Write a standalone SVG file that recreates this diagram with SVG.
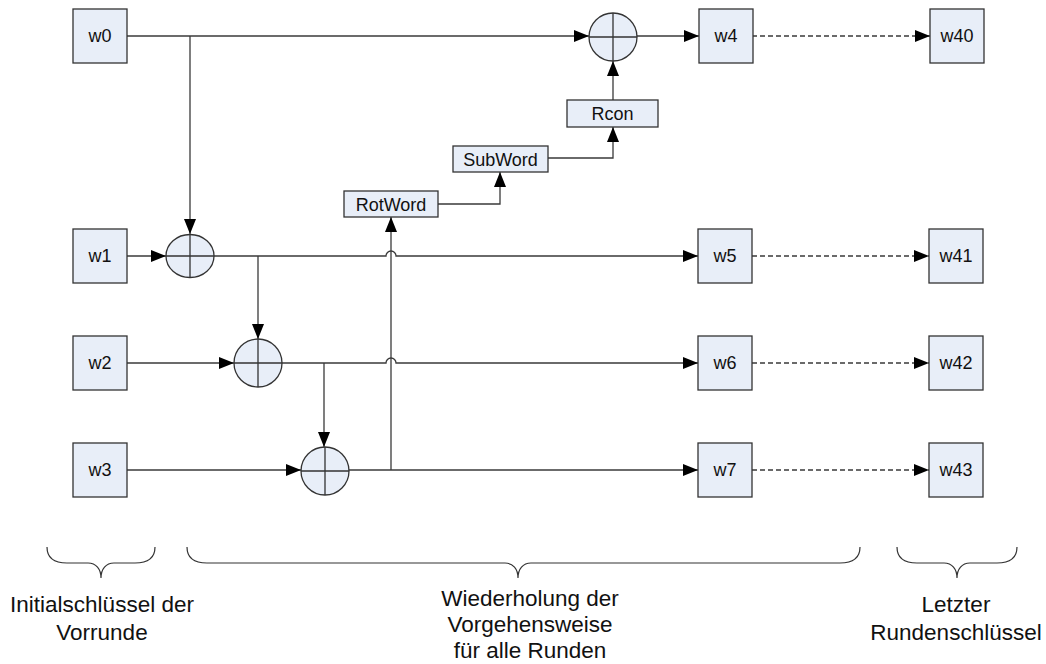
<svg xmlns="http://www.w3.org/2000/svg" width="1046" height="664" viewBox="0 0 1046 664">
  <defs>
    <marker id="arrow" markerUnits="userSpaceOnUse" markerWidth="16" markerHeight="14" refX="15" refY="7" orient="auto">
      <path d="M0,1 L15,7 L0,13 Z" fill="#000"/>
    </marker>
  </defs>
  <style>
    .box { fill: #E8EEF8; stroke: #333; stroke-width: 1.3; }
    .xor { fill: #E8EEF8; stroke: #333; stroke-width: 1.3; }
    .cross { stroke: #333; stroke-width: 1.3; fill: none; }
    .lbl { font-family: "Liberation Sans", Arial, sans-serif; font-size: 18px; fill: #111; text-anchor: middle; }
    .cap { font-family: "Liberation Sans", Arial, sans-serif; font-size: 22.5px; fill: #111; text-anchor: middle; }
    .wire { stroke: #3a3a3a; stroke-width: 1.3; fill: none; }
    .arr { marker-end: url(#arrow); }
    .dash { stroke-dasharray: 5 3; }
    .brace { stroke: #333; stroke-width: 1.2; fill: none; }
  </style>
  <rect width="1046" height="664" fill="#fff"/>

  <!-- connectors -->
  <g id="connectors">
    <!-- w0 row -->
    <path class="wire arr" d="M127,36 H589"/>
    <path class="wire arr" d="M190,36 V234"/>
    <path class="wire arr" d="M637,36 H699"/>
    <path class="wire arr dash" d="M752,36 H930"/>
    <!-- w1 row -->
    <path class="wire arr" d="M126,256 H166"/>
    <path class="wire arr" d="M214,256 H386 A5,5 0 0 1 396,256 H698"/>
    <path class="wire arr" d="M258,256 V339"/>
    <path class="wire arr dash" d="M752,256 H929"/>
    <!-- w2 row -->
    <path class="wire arr" d="M127,363 H234"/>
    <path class="wire arr" d="M282,363 H386 A5,5 0 0 1 396,363 H698"/>
    <path class="wire arr" d="M324,363 V447"/>
    <path class="wire arr dash" d="M752,363 H929"/>
    <!-- w3 row -->
    <path class="wire arr" d="M127,470 H301"/>
    <path class="wire arr" d="M349,470 H698"/>
    <path class="wire arr dash" d="M752,470 H929"/>
    <!-- key schedule core -->
    <path class="wire arr" d="M391,470 V217"/>
    <path class="wire arr" d="M438,204 H500 V172"/>
    <path class="wire arr" d="M548,158 H613 V127"/>
    <path class="wire arr" d="M613,100 V61"/>
  </g>

  <!-- input words -->
  <g id="w0"><rect class="box" x="73" y="9" width="54" height="54"/><text class="lbl" x="100" y="42">w0</text></g>
  <g id="w1"><rect class="box" x="73" y="229" width="54" height="54"/><text class="lbl" x="100" y="262">w1</text></g>
  <g id="w2"><rect class="box" x="73" y="336" width="54" height="54"/><text class="lbl" x="100" y="369">w2</text></g>
  <g id="w3"><rect class="box" x="73" y="443" width="54" height="54"/><text class="lbl" x="100" y="476">w3</text></g>

  <!-- next round words -->
  <g id="w4"><rect class="box" x="699" y="9" width="54" height="54"/><text class="lbl" x="726" y="42">w4</text></g>
  <g id="w5"><rect class="box" x="698" y="229" width="54" height="54"/><text class="lbl" x="725" y="262">w5</text></g>
  <g id="w6"><rect class="box" x="698" y="336" width="54" height="54"/><text class="lbl" x="725" y="369">w6</text></g>
  <g id="w7"><rect class="box" x="698" y="443" width="54" height="54"/><text class="lbl" x="725" y="476">w7</text></g>

  <!-- last round words -->
  <g id="w40"><rect class="box" x="930" y="9" width="54" height="54"/><text class="lbl" x="957" y="42">w40</text></g>
  <g id="w41"><rect class="box" x="929" y="229" width="54" height="54"/><text class="lbl" x="956" y="262">w41</text></g>
  <g id="w42"><rect class="box" x="929" y="336" width="54" height="54"/><text class="lbl" x="956" y="369">w42</text></g>
  <g id="w43"><rect class="box" x="929" y="443" width="54" height="54"/><text class="lbl" x="956" y="476">w43</text></g>

  <!-- XOR operators -->
  <g id="xor0"><circle class="xor" cx="613" cy="37" r="24"/><path class="cross" d="M589,37 H637 M613,13 V61"/></g>
  <g id="xor1"><ellipse class="xor" cx="190" cy="256" rx="24" ry="21.5"/><path class="cross" d="M166,256 H214 M190,234.5 V277.5"/></g>
  <g id="xor2"><circle class="xor" cx="258" cy="363" r="24"/><path class="cross" d="M234,363 H282 M258,339 V387"/></g>
  <g id="xor3"><circle class="xor" cx="325" cy="471" r="24"/><path class="cross" d="M301,471 H349 M325,447 V495"/></g>

  <!-- transformation steps -->
  <g id="rotword"><rect class="box" x="344" y="191" width="94" height="26"/><text class="lbl" x="391" y="210.5">RotWord</text></g>
  <g id="subword"><rect class="box" x="453" y="146" width="95" height="26"/><text class="lbl" x="500.5" y="165.5">SubWord</text></g>
  <g id="rcon"><rect class="box" x="567" y="100" width="91" height="27"/><text class="lbl" x="612.5" y="120">Rcon</text></g>

  <!-- group braces -->
  <g id="brace-initial">
    <path class="brace" d="M47,547 C47,557 53,563 67,563 L88,563 C96,563 101,569 101,578 C101,569 106,563 114,563 L135,563 C149,563 155,557 155,547"/>
    <text class="cap" x="102" y="612">Initialschlüssel der</text>
    <text class="cap" x="102" y="640">Vorrunde</text>
  </g>
  <g id="brace-rounds">
    <path class="brace" d="M187,547 C187,557 193,563 207,563 L505,563 C513,563 518,569 518,578 C518,569 523,563 531,563 L840,563 C854,563 860,557 860,547"/>
    <text class="cap" x="530" y="606">Wiederholung der</text>
    <text class="cap" x="530" y="632">Vorgehensweise</text>
    <text class="cap" x="530" y="658">für alle Runden</text>
  </g>
  <g id="brace-last">
    <path class="brace" d="M897,547 C897,557 903,563 917,563 L944,563 C952,563 957,569 957,578 C957,569 962,563 970,563 L997,563 C1011,563 1017,557 1017,547"/>
    <text class="cap" x="956" y="612">Letzter</text>
    <text class="cap" x="956" y="640">Rundenschlüssel</text>
  </g>
</svg>
